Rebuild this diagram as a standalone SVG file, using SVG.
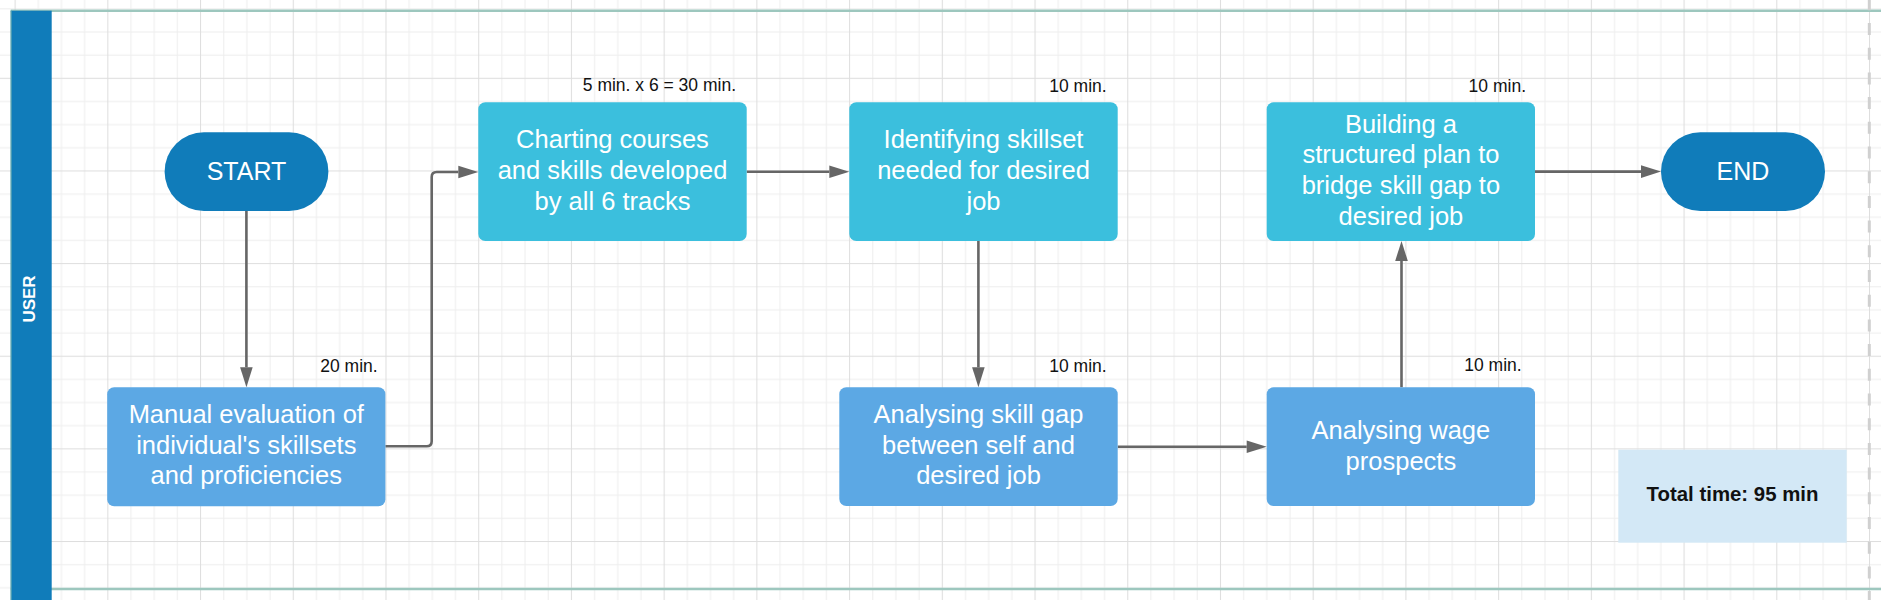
<svg xmlns="http://www.w3.org/2000/svg" width="1881" height="600" viewBox="0 0 1881 600">
  <style>
    .txt { font-family: "Liberation Sans", Arial, Helvetica, sans-serif; }
    .box-text { font-size: 25.5px; fill: #ffffff; text-anchor: middle; }
    .pill-text { font-size: 25px; fill: #ffffff; text-anchor: middle; }
    .time { font-size: 17.5px; fill: #111111; text-anchor: end; }
    .total { font-size: 20.4px; font-weight: bold; fill: #111111; text-anchor: middle; }
    .lane-title { font-size: 17px; font-weight: bold; fill: #ffffff; text-anchor: middle; }
    .pill { fill: #107cba; }
    .top-box { fill: #3bbfdd; }
    .bot-box { fill: #5ca8e4; }
    .conn { fill: none; stroke: #666666; stroke-width: 2.6; }
  </style>
  <defs>
    <pattern id="grid" patternUnits="userSpaceOnUse" x="14.6" y="-14.84" width="92.72" height="92.64">
      <rect x="0" y="0" width="92.72" height="92.64" fill="#ffffff"/>
      <rect x="23.18" y="0" width="1" height="92.64" fill="#eeeeee"/>
      <rect x="46.36" y="0" width="1" height="92.64" fill="#eeeeee"/>
      <rect x="69.54" y="0" width="1" height="92.64" fill="#eeeeee"/>
      <rect x="0" y="23.16" width="92.72" height="1" fill="#eeeeee"/>
      <rect x="0" y="46.32" width="92.72" height="1" fill="#eeeeee"/>
      <rect x="0" y="69.48" width="92.72" height="1" fill="#eeeeee"/>
      <rect x="0" y="0" width="1" height="92.64" fill="#dedede"/>
      <rect x="0" y="0" width="92.72" height="1" fill="#dedede"/>
    </pattern>
    <marker id="arrow" markerUnits="userSpaceOnUse" markerWidth="22" markerHeight="14" refX="0" refY="7" orient="auto" overflow="visible">
      <path d="M0,0.7 L20,7 L0,13.3 Z" fill="#666666"/>
    </marker>
  </defs>

  <g id="background">
    <rect x="0" y="0" width="1881" height="600" fill="url(#grid)"/>
  </g>

  <g id="lane">
    <line x1="10.7" y1="10.7" x2="1881" y2="10.7" stroke="#9dc7be" stroke-width="2.6"/>
    <line x1="10.7" y1="589" x2="1881" y2="589" stroke="#9dc7be" stroke-width="2.6"/>
    <rect x="10.7" y="10.7" width="41" height="600" fill="#107cba"/>
    <line x1="11" y1="10.7" x2="11" y2="600" stroke="#7fb7b0" stroke-width="1"/>
    <text class="txt lane-title" transform="translate(35.2,299) rotate(-90)">USER</text>
  </g>

  <line id="page-break" x1="1869.3" y1="-1.7" x2="1869.3" y2="600" stroke="#d0d0d0" stroke-width="3" stroke-dasharray="12 12.7"/>

  <g id="connectors">
    <path class="conn" d="M246.4,211 V367.3" marker-end="url(#arrow)"/>
    <path class="conn" d="M385.4,446.3 H426.7 Q431.7,446.3 431.7,441.3 V177 Q431.7,172 436.7,172 H458.3" marker-end="url(#arrow)"/>
    <path class="conn" d="M746.7,171.8 H829.3" marker-end="url(#arrow)"/>
    <path class="conn" d="M978.4,241 V367.3" marker-end="url(#arrow)"/>
    <path class="conn" d="M1117.7,446.7 H1246.7" marker-end="url(#arrow)"/>
    <path class="conn" d="M1401.5,387.3 V261" marker-end="url(#arrow)"/>
    <path class="conn" d="M1535,171.6 H1641" marker-end="url(#arrow)"/>
  </g>

  <g id="start">
    <rect class="pill" x="164.6" y="132.3" width="163.8" height="78.7" rx="39.35" ry="39.35"/>
    <text class="txt pill-text" x="246.5" y="180.2">START</text>
  </g>

  <g id="manual-evaluation">
    <rect class="bot-box" x="107.2" y="387.3" width="278.2" height="119" rx="7"/>
    <text class="txt box-text" x="246.3" y="422.8">Manual evaluation of</text>
    <text class="txt box-text" x="246.3" y="453.7">individual's skillsets</text>
    <text class="txt box-text" x="246.3" y="484.4">and proficiencies</text>
    <text class="txt time" x="377.7" y="371.7">20 min.</text>
  </g>

  <g id="charting-courses">
    <rect class="top-box" x="478.3" y="102.3" width="268.4" height="138.7" rx="7"/>
    <text class="txt box-text" x="612.5" y="148.3">Charting courses</text>
    <text class="txt box-text" x="612.5" y="179.1">and skills developed</text>
    <text class="txt box-text" x="612.5" y="209.9">by all 6 tracks</text>
    <text class="txt time" x="736" y="90.5">5 min. x 6 = 30 min.</text>
  </g>

  <g id="identifying-skillset">
    <rect class="top-box" x="849.3" y="102.3" width="268.4" height="138.7" rx="7"/>
    <text class="txt box-text" x="983.5" y="148.3">Identifying skillset</text>
    <text class="txt box-text" x="983.5" y="179.1">needed for desired</text>
    <text class="txt box-text" x="983.5" y="209.9">job</text>
    <text class="txt time" x="1106.7" y="92">10 min.</text>
  </g>

  <g id="analysing-skill-gap">
    <rect class="bot-box" x="839.3" y="387.3" width="278.4" height="118.7" rx="7"/>
    <text class="txt box-text" x="978.5" y="422.8">Analysing skill gap</text>
    <text class="txt box-text" x="978.5" y="453.6">between self and</text>
    <text class="txt box-text" x="978.5" y="484.4">desired job</text>
    <text class="txt time" x="1106.7" y="371.7">10 min.</text>
  </g>

  <g id="analysing-wage">
    <rect class="bot-box" x="1266.7" y="387.3" width="268.3" height="118.7" rx="7"/>
    <text class="txt box-text" x="1400.9" y="439.3">Analysing wage</text>
    <text class="txt box-text" x="1400.9" y="469.6">prospects</text>
    <text class="txt time" x="1521.7" y="370.7">10 min.</text>
  </g>

  <g id="building-plan">
    <rect class="top-box" x="1266.7" y="102.3" width="268.3" height="138.7" rx="7"/>
    <text class="txt box-text" x="1400.9" y="132.5">Building a</text>
    <text class="txt box-text" x="1400.9" y="163.3">structured plan to</text>
    <text class="txt box-text" x="1400.9" y="194.1">bridge skill gap to</text>
    <text class="txt box-text" x="1400.9" y="224.9">desired job</text>
    <text class="txt time" x="1526" y="92">10 min.</text>
  </g>

  <g id="end">
    <rect class="pill" x="1661" y="132.3" width="164" height="78.7" rx="39.35" ry="39.35"/>
    <text class="txt pill-text" x="1743" y="180.2">END</text>
  </g>

  <g id="total-time">
    <rect x="1618.3" y="449.7" width="228.4" height="93" fill="#d3e8f6"/>
    <text class="txt total" x="1732.5" y="500.6">Total time: 95 min</text>
  </g>
</svg>
